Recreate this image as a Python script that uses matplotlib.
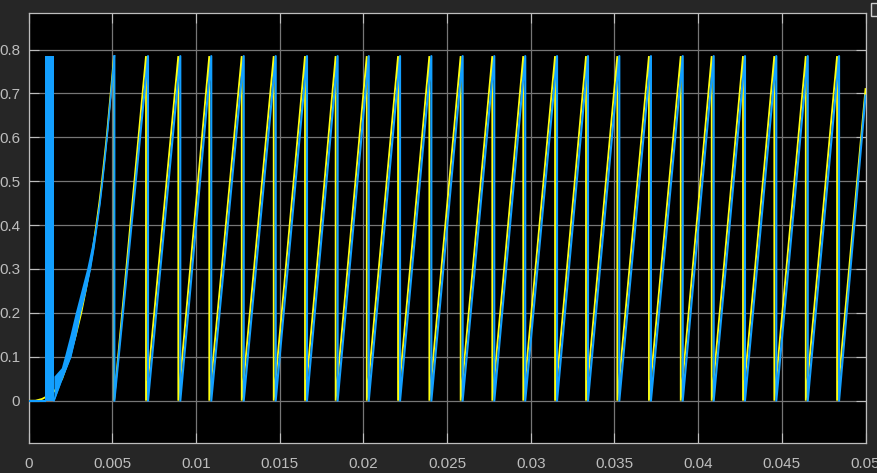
import matplotlib
matplotlib.use("Agg")
import matplotlib.pyplot as plt
from matplotlib.patches import Rectangle

# ---------------- data ----------------
peak_value = 0.785
# times where the yellow sawtooth wraps from the peak back to 0
yellow_drops = [0.00510, 0.00701, 0.00894, 0.01079, 0.01273, 0.01464, 0.01651,
                0.01834, 0.02020, 0.02207, 0.02394, 0.02581, 0.02770, 0.02955,
                0.03145, 0.03330, 0.03517, 0.03706, 0.03896, 0.04081, 0.04268,
                0.04455, 0.04643, 0.04830]
# blue sawtooth wraps slightly later
blue_drops = [0.00512, 0.00713, 0.00906, 0.01091, 0.01285, 0.01476, 0.01663,
              0.01846, 0.02032, 0.02219, 0.02406, 0.02593, 0.02782, 0.02967,
              0.03157, 0.03342, 0.03529, 0.03718, 0.03908, 0.04093, 0.04280,
              0.04467, 0.04655, 0.04842]
t_end = 0.05
yellow_end_value = 0.71
blue_end_value = 0.695

# yellow start-up (acceleration from rest)
yellow_start_t = [0.0, 0.0004, 0.0008, 0.0010, 0.0013, 0.0016, 0.0020, 0.00245,
                  0.00282, 0.00314, 0.00340, 0.00364, 0.00385, 0.00404, 0.00422,
                  0.00438, 0.00452, 0.00466, 0.00478, 0.00490, 0.00510]
yellow_start_v = [0.0, 0.0, 0.004, 0.008, 0.012, 0.025, 0.05, 0.10,
                  0.15, 0.20, 0.25, 0.30, 0.35, 0.40, 0.45,
                  0.50, 0.55, 0.60, 0.65, 0.70, 0.785]

# blue start-up: flat, then a burst of fast oscillation, then a noisy ramp band
blue_flat_t = [0.0, 0.00099]
blue_flat_v = [0.0, 0.0]
blue_burst_t = [0.00099, 0.00151]
blue_burst_top = [0.785, 0.785]
blue_band_v = [0.0, 0.056, 0.075, 0.10, 0.15, 0.20, 0.25, 0.30, 0.35, 0.40,
               0.45, 0.50, 0.55, 0.60, 0.65, 0.70, 0.785]
blue_band_left_t = [0.00151, 0.00151, 0.00195, 0.00213, 0.00247, 0.00278,
                    0.00312, 0.00346, 0.00374, 0.00399, 0.00420, 0.00437,
                    0.00451, 0.00465, 0.00477, 0.00489, 0.00509]
blue_band_right_t = [0.00151, 0.00205, 0.00225, 0.00251, 0.00282, 0.00307,
                     0.00340, 0.00368, 0.00390, 0.00408, 0.00426, 0.00441,
                     0.00455, 0.00468, 0.00480, 0.00492, 0.00512]

x_ticks = [0, 0.005, 0.01, 0.015, 0.02, 0.025, 0.03, 0.035, 0.04, 0.045, 0.05]
x_tick_labels = ["0", "0.005", "0.01", "0.015", "0.02", "0.025", "0.03",
                 "0.035", "0.04", "0.045", "0.05"]
y_ticks = [0, 0.1, 0.2, 0.3, 0.4, 0.5, 0.6, 0.7, 0.8]
y_tick_labels = ["0", "0.1", "0.2", "0.3", "0.4", "0.5", "0.6", "0.7", "0.8"]

# ---------------- build sawtooth vertex lists ----------------
def sawtooth(start_t, start_v, drops, end_t, end_v):
    ts = list(start_t)
    vs = list(start_v)
    for i, d in enumerate(drops):
        if i > 0:
            ts.append(d)
            vs.append(peak_value)
        ts.append(d)
        vs.append(0.0)
    ts.append(end_t)
    vs.append(end_v)
    return ts, vs

yt, yv = sawtooth(yellow_start_t, yellow_start_v, yellow_drops, t_end, yellow_end_value)
bt, bv = sawtooth([blue_band_right_t[-1]], [peak_value], blue_drops, t_end, blue_end_value)

# ---------------- style ----------------
fig_bg = "#262626"
tick_col = "#bdbdbd"
grid_col = "#767676"
yellow = "#ffff11"
blue = "#139fff"

plt.rcParams["font.family"] = ["Liberation Sans", "DejaVu Sans"]
fig = plt.figure(figsize=(8.77, 4.73), dpi=100, facecolor=fig_bg)
ax = fig.add_axes([0.0327, 0.0634, 0.9542, 0.9085])
ax.set_facecolor("black")

ax.plot(yt, yv, color=yellow, lw=1.3, zorder=3, solid_joinstyle="miter")
ax.plot(blue_flat_t, blue_flat_v, color=blue, lw=1.5, zorder=4)
ax.fill_between(blue_burst_t, [0, 0], blue_burst_top, color=blue, lw=0, zorder=4)
ax.fill_betweenx(blue_band_v, blue_band_left_t, blue_band_right_t, color=blue,
                 lw=0, zorder=4)
ax.plot(blue_band_right_t, blue_band_v, color=blue, lw=1.2, zorder=4)
ax.plot(bt, bv, color=blue, lw=1.5, zorder=4)

ax.set_xlim(0, 0.05)
ax.set_ylim(-0.0964, 0.8825)
ax.set_xticks(x_ticks)
ax.set_xticklabels(x_tick_labels)
ax.set_yticks(y_ticks)
ax.set_yticklabels(y_tick_labels)
ax.grid(True, color=grid_col, lw=0.9, zorder=1)
ax.set_axisbelow(True)
ax.tick_params(axis="both", colors=tick_col, labelsize=11, direction="in",
               length=7, width=0.8, top=True, right=True)
ax.tick_params(axis="x", pad=10)
ax.tick_params(axis="y", pad=6)
for s in ax.spines.values():
    s.set_color(tick_col)
    s.set_linewidth(0.9)

# small clipped legend/icon box at the top-right corner
fig.patches.append(Rectangle((0.9937, 1 - 16 / 473), 0.012, 12.5 / 473,
                             transform=fig.transFigure, facecolor="#333333",
                             edgecolor="#d0d0d0", lw=1.0))

fig.savefig("out.png", dpi=100, facecolor=fig_bg)
